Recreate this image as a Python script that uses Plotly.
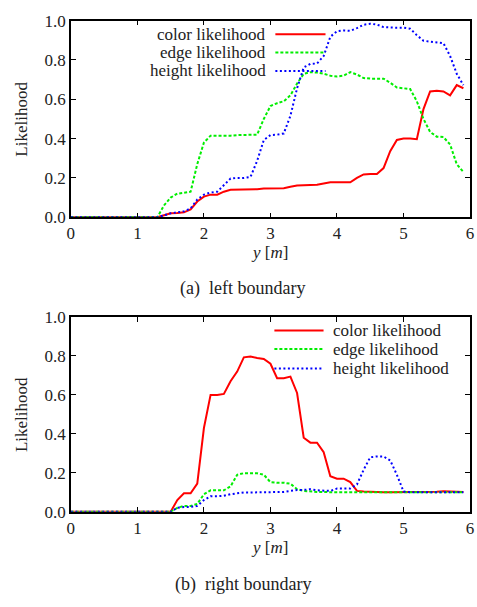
import plotly.graph_objects as go

# ---------------- data ----------------
y_pos = [i / 10 for i in range(60)]  # 0.0 .. 5.9 m

left_color = [0]*14 + [0.01, 0.02, 0.022, 0.025, 0.04, 0.08, 0.105, 0.115, 0.115, 0.13,
                       0.14, 0.14, 0.14, 0.14, 0.143, 0.146, 0.147, 0.147, 0.148, 0.155,
                       0.162, 0.163, 0.163, 0.165, 0.172, 0.178, 0.178, 0.178, 0.178, 0.2,
                       0.218, 0.22, 0.22, 0.25, 0.336, 0.393, 0.4, 0.4, 0.397, 0.55,
                       0.64, 0.644, 0.64, 0.62, 0.672, 0.656]
left_edge = [0]*14 + [0.06, 0.1, 0.12, 0.125, 0.13, 0.27, 0.38, 0.415, 0.415, 0.412,
                      0.415, 0.418, 0.418, 0.418, 0.42, 0.5, 0.566, 0.58, 0.59, 0.62,
                      0.68, 0.73, 0.738, 0.736, 0.73, 0.72, 0.716, 0.72, 0.738, 0.726,
                      0.708, 0.705, 0.705, 0.705, 0.684, 0.66, 0.656, 0.652, 0.59, 0.5,
                      0.434, 0.41, 0.408, 0.37, 0.27, 0.23]
left_height = [0]*14 + [0.01, 0.02, 0.025, 0.03, 0.045, 0.09, 0.115, 0.126, 0.13, 0.164,
                        0.197, 0.2, 0.2, 0.205, 0.287, 0.393, 0.418, 0.42, 0.426, 0.516,
                        0.656, 0.762, 0.78, 0.782, 0.82, 0.918, 0.946, 0.95, 0.948, 0.962,
                        0.979, 0.984, 0.98, 0.967, 0.964, 0.964, 0.964, 0.959, 0.926, 0.898,
                        0.893, 0.89, 0.885, 0.82, 0.73, 0.672]

right_color = [0]*16 + [0.06, 0.095, 0.095, 0.145, 0.43, 0.6, 0.6, 0.605, 0.67, 0.72,
                        0.793, 0.797, 0.79, 0.785, 0.76, 0.686, 0.686, 0.694, 0.61, 0.38,
                        0.355, 0.355, 0.306, 0.182, 0.17, 0.17, 0.152, 0.107, 0.104, 0.102,
                        0.1, 0.1, 0.1, 0.1, 0.1, 0.1, 0.1, 0.1, 0.101, 0.103,
                        0.105, 0.104, 0.103, 0.102]
right_edge = [0]*16 + [0.02, 0.03, 0.03, 0.04, 0.09, 0.11, 0.11, 0.11, 0.13, 0.19,
                       0.198, 0.198, 0.198, 0.19, 0.152, 0.149, 0.149, 0.144, 0.116, 0.107,
                       0.103, 0.102, 0.101, 0.1] + [0.1]*20
right_height = [0]*16 + [0.02, 0.025, 0.025, 0.03, 0.06, 0.08, 0.08, 0.082, 0.09, 0.095,
                         0.099, 0.099, 0.099, 0.099, 0.099, 0.099, 0.102, 0.107, 0.112, 0.112,
                         0.116, 0.11, 0.107, 0.107, 0.119, 0.119, 0.119, 0.14, 0.215, 0.28,
                         0.284, 0.284, 0.264, 0.19, 0.104] + [0.1]*9

series_names = ["color likelihood", "edge likelihood", "height likelihood"]
captions = ["(a)  left boundary", "(b)  right boundary"]
x_ticks = [0, 1, 2, 3, 4, 5, 6]
y_ticks = [0.0, 0.2, 0.4, 0.6, 0.8, 1.0]

# ---------------- styling ----------------
W, H = 477, 607
FONT = "Liberation Serif"
styles = [
    dict(color="#ff0000", width=2, dash="solid"),
    dict(color="#00ee00", width=2, dash="3px,2px"),
    dict(color="#0000ff", width=2, dash="2px,2.5px"),
]

def px(x):
    return x / W

def py(y):
    return 1 - y / H

fig = go.Figure()

panels = [
    ((left_color, left_edge, left_height), "x", "y"),
    ((right_color, right_edge, right_height), "x2", "y2"),
]
for data, xa, ya in panels:
    for vals, name, st in zip(data, series_names, styles):
        fig.add_trace(go.Scatter(x=y_pos, y=vals, mode="lines", name=name,
                                 line=st, xaxis=xa, yaxis=ya, showlegend=False))

x_dom = [px(68), px(474)]
top_dom = [py(215), py(12)]
bot_dom = [py(519), py(318)]

axis_common = dict(showline=True, linecolor="black", linewidth=1.5, mirror="allticks",
                   ticks="inside", ticklen=5, tickwidth=1, tickcolor="black",
                   showgrid=False, zeroline=False, ticklabeloverflow="allow",
                   tickfont=dict(family=FONT, size=17, color="#222"))

fig.update_layout(
    width=W, height=H, margin=dict(l=0, r=0, t=0, b=0),
    paper_bgcolor="white", plot_bgcolor="white",
    font=dict(family=FONT, size=17, color="#222"),
    xaxis=dict(domain=x_dom, range=[0, 6], tickvals=x_ticks, anchor="y", **axis_common),
    yaxis=dict(domain=top_dom, range=[0, 1], tickvals=y_ticks, tickformat=".1f",
               anchor="x", **axis_common),
    xaxis2=dict(domain=x_dom, range=[0, 6], tickvals=x_ticks, anchor="y2", **axis_common),
    yaxis2=dict(domain=bot_dom, range=[0, 1], tickvals=y_ticks, tickformat=".1f",
                anchor="x2", **axis_common),
    showlegend=False,
)

annotations = []
shapes = []
fnt = dict(family=FONT, size=17, color="#222")

# axis titles and captions
for top_px, bot_px, cap, cap_y, xt_y in [(12, 215, captions[0], 289, 251),
                                         (318, 519, captions[1], 594, 556)]:
    annotations.append(dict(text="Likelihood", x=px(18), y=py((top_px + bot_px) / 2),
                            xref="paper", yref="paper", textangle=-90, showarrow=False,
                            font=fnt, xanchor="center", yanchor="middle"))
    annotations.append(dict(text="<i>y</i> [<i>m</i>]", x=px(270), y=py(xt_y),
                            xref="paper", yref="paper", showarrow=False, font=fnt,
                            xanchor="center", yanchor="middle"))
    annotations.append(dict(text=cap, x=px(243), y=py(cap_y), xref="paper", yref="paper",
                            showarrow=False, font=dict(family=FONT, size=18, color="#222"),
                            xanchor="center", yanchor="middle"))

# legend, top panel: text right-aligned, sample on the right
for i, (name, st) in enumerate(zip(series_names, styles)):
    yy = [26, 45, 64][i]
    annotations.append(dict(text=name, x=px(269), y=py(yy), xref="paper", yref="paper",
                            showarrow=False, font=fnt, xanchor="right", yanchor="middle"))
    shapes.append(dict(type="line", xref="paper", yref="paper", x0=px(276), x1=px(327),
                       y0=py(yy), y1=py(yy), line=st))

# legend, bottom panel: sample on the left, text left-aligned
for i, (name, st) in enumerate(zip(series_names, styles)):
    yy = [332, 351, 371][i]
    annotations.append(dict(text=name, x=px(333), y=py(yy), xref="paper", yref="paper",
                            showarrow=False, font=fnt, xanchor="left", yanchor="middle"))
    shapes.append(dict(type="line", xref="paper", yref="paper", x0=px(275), x1=px(325),
                       y0=py(yy), y1=py(yy), line=st))

fig.update_layout(annotations=annotations, shapes=shapes)
fig.write_html("out.html", config={"displayModeBar": False},
               post_script="document.body.style.margin='0';document.body.style.overflow='hidden';")
